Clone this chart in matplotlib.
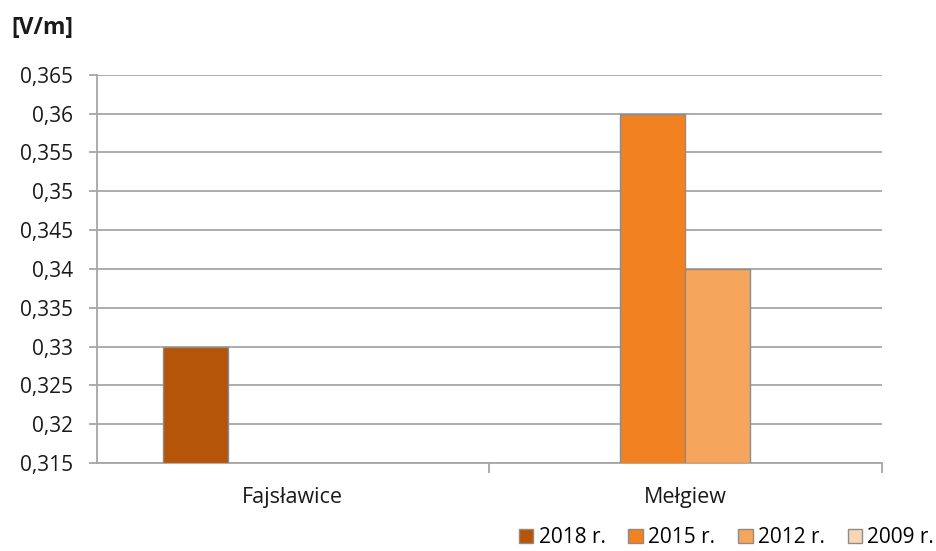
import numpy as np
import matplotlib
matplotlib.use("Agg")
from matplotlib import pyplot as plt
from matplotlib.patches import Patch
from matplotlib.ticker import FixedLocator

plt.rcParams["font.family"] = ["Open Sans", "DejaVu Sans"]

categories = ["Fajsławice", "Mełgiew"]
series = ["2018 r.", "2015 r.", "2012 r.", "2009 r."]
# missing measurements kept as NaN
values = {
    "2018 r.": [0.330, np.nan],
    "2015 r.": [np.nan, 0.360],
    "2012 r.": [np.nan, 0.340],
    "2009 r.": [np.nan, np.nan],
}
colors = ["#B4550A", "#F28121", "#F6A55D", "#FAD6B5"]
y_ticks = [0.315, 0.32, 0.325, 0.33, 0.335, 0.34, 0.345, 0.35, 0.355, 0.36, 0.365]
y_labels = ["0,315", "0,32", "0,325", "0,33", "0,335", "0,34", "0,345", "0,35", "0,355", "0,36", "0,365"]

fig = plt.figure(figsize=(9.37, 5.51), dpi=100, facecolor="w")
ax = fig.add_axes([0.103, 0.1597, 0.8378, 0.7047])

ymin, ymax = y_ticks[0], y_ticks[-1]
width = 1 / 6.04
x = np.arange(len(categories))
for i, (name, color) in enumerate(zip(series, colors)):
    offs = (i - 1.5) * width
    vals = np.array(values[name], dtype=float)
    ok = ~np.isnan(vals)
    ax.bar(x[ok] + offs, vals[ok] - ymin, width, bottom=ymin, color=color,
           edgecolor="#8C8C8C", linewidth=1.0, zorder=3)

ax.set_xlim(-0.5, len(categories) - 0.5)
ax.set_ylim(ymin, ymax)

grid_c = "#A6A6A6"
txt_c = "#1a1a1a"
ax.yaxis.set_major_locator(FixedLocator(y_ticks))
ax.set_yticklabels(y_labels, fontsize=15, color=txt_c)
ax.grid(axis="y", color=grid_c, linewidth=1.3, zorder=0)
ax.tick_params(axis="y", length=6, width=1.3, color=grid_c, pad=11)

# category boundaries as ticks, labels centered between
ax.set_xticks([0.5, 1.5])
ax.set_xticklabels([])
ax.set_xticks(x, minor=True)
ax.set_xticklabels(categories, minor=True, fontsize=15.5, color=txt_c)
ax.tick_params(axis="x", which="major", length=7, width=1.3, color=grid_c)
ax.tick_params(axis="x", which="minor", length=0, pad=17)

for side in ("top", "right"):
    ax.spines[side].set_visible(False)
for side in ("left", "bottom"):
    ax.spines[side].set_color(grid_c)
    ax.spines[side].set_linewidth(1.3)

fig.text(0.012, 0.949, "[V/m]", fontsize=16.5, fontweight="bold", color=txt_c,
         ha="left", va="center")

handles = [Patch(facecolor=c, edgecolor="#8C8C8C", linewidth=1.0) for c in colors]
fig.legend(handles, series, loc="center right", bbox_to_anchor=(0.997, 0.024),
           ncol=4, frameon=False, fontsize=15, handlelength=0.7, handleheight=0.7,
           handletextpad=0.25, columnspacing=1.1, borderaxespad=0, borderpad=0)

fig.savefig("out.png", dpi=100)
